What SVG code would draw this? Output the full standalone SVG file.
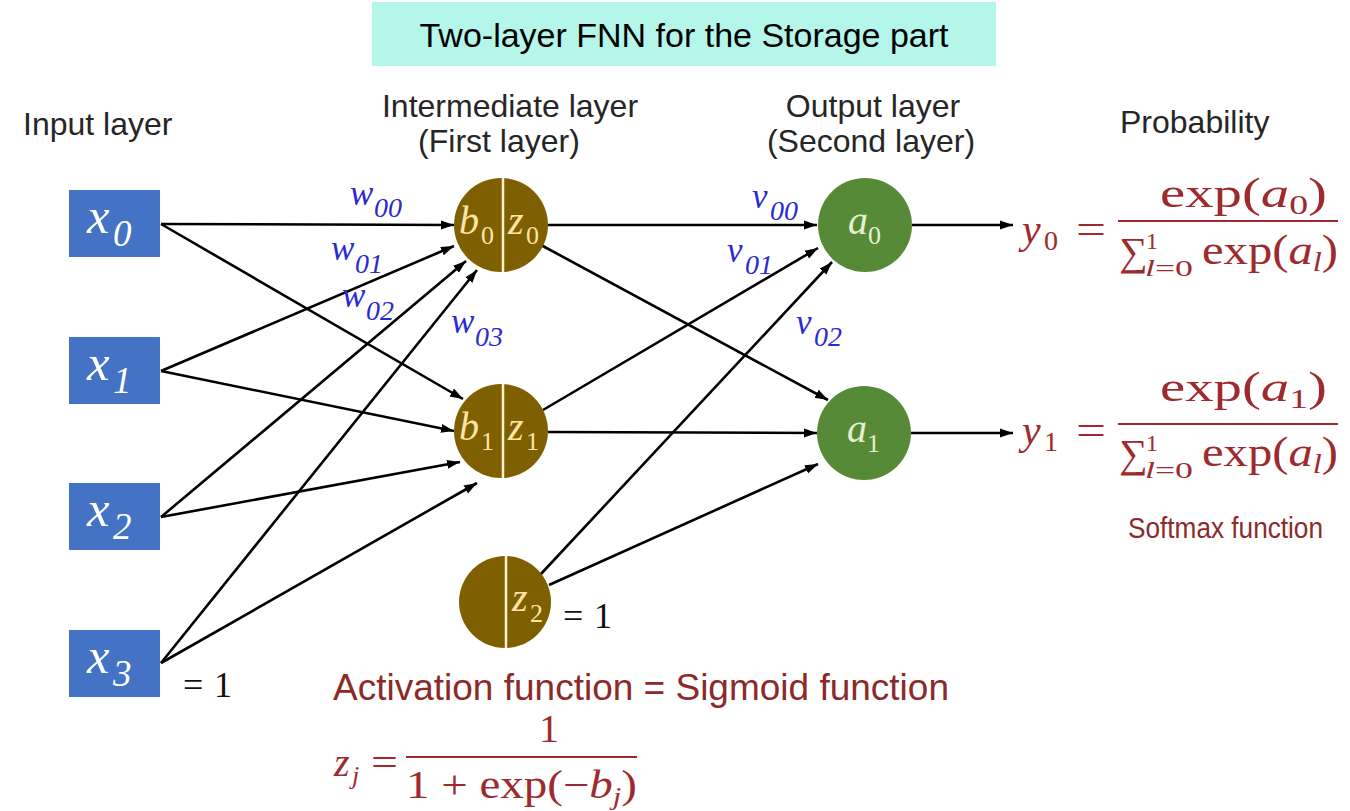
<svg xmlns="http://www.w3.org/2000/svg" width="1350" height="811" viewBox="0 0 1350 811">
<style>
.lbl{font-family:"Liberation Sans",Arial,sans-serif;font-size:32px;fill:#262626}
.red{font-family:"Liberation Sans",Arial,sans-serif;fill:#8c2a2a}
.m{font-family:"Liberation Serif","Times New Roman",serif;fill:#9e2a2e}
.it{font-style:italic}
.inx{font-family:"Liberation Serif","Times New Roman",serif;font-style:italic;fill:#ffffff}
.hid{font-family:"Liberation Serif","Times New Roman",serif;fill:#fbe5a6}
.out{font-family:"Liberation Serif","Times New Roman",serif;fill:#e4f0d2}
.wl{font-family:"Liberation Serif","Times New Roman",serif;font-style:italic;fill:#2a2ad2}
.blk{font-family:"Liberation Serif","Times New Roman",serif;fill:#111}
.box{fill:#4472c4}
.hn{fill:#7f6000}
.on{fill:#578a37}
.div{stroke:#fff2cc;stroke-width:2.5}
.c{stroke:#000;stroke-width:2.6;fill:none;marker-end:url(#ah)}
.bar{stroke:#9e2a2e;stroke-width:2.2}
</style>
<defs>
<marker id="ah" viewBox="0 0 10 10" refX="10" refY="5" markerWidth="5" markerHeight="5" orient="auto" markerUnits="strokeWidth">
<path d="M0,1.5 L10,5 L0,8.5 z" fill="#000"/>
</marker>
</defs>
<rect width="1350" height="811" fill="#ffffff"/>

<g id="title">
<rect x="372" y="2" width="624" height="64" fill="#b4f6e9"/>
<text x="684" y="47" text-anchor="middle" font-family="Liberation Sans, Arial, sans-serif" font-size="34" fill="#000">Two-layer FNN for the Storage part</text>
</g>

<g id="labels">
<text class="lbl" x="23" y="135">Input layer</text>
<text class="lbl" x="510" y="117" text-anchor="middle">Intermediate layer</text>
<text class="lbl" x="499" y="152" text-anchor="middle">(First layer)</text>
<text class="lbl" x="873" y="117" text-anchor="middle">Output layer</text>
<text class="lbl" x="871" y="152" text-anchor="middle">(Second layer)</text>
<text class="lbl" x="1120" y="133">Probability</text>
</g>

<g id="connectors">
<line class="c" x1="161" y1="224" x2="454" y2="225"/>
<line class="c" x1="161" y1="224" x2="463" y2="399"/>
<line class="c" x1="161" y1="371" x2="454" y2="246"/>
<line class="c" x1="161" y1="371" x2="454" y2="431"/>
<line class="c" x1="161" y1="517" x2="466" y2="261"/>
<line class="c" x1="161" y1="517" x2="460" y2="462"/>
<line class="c" x1="161" y1="663" x2="477" y2="270"/>
<line class="c" x1="161" y1="663" x2="477" y2="483"/>
<line class="c" x1="548" y1="225" x2="817" y2="225"/>
<line class="c" x1="541" y1="245" x2="828" y2="400"/>
<line class="c" x1="543" y1="410" x2="818" y2="248"/>
<line class="c" x1="548" y1="432" x2="817" y2="433"/>
<line class="c" x1="540" y1="575" x2="832" y2="262"/>
<line class="c" x1="549" y1="585" x2="818" y2="464"/>
<line class="c" x1="912" y1="225" x2="1013" y2="225"/>
<line class="c" x1="911" y1="433" x2="1013" y2="433"/>
</g>

<g id="x0">
<rect class="box" x="69" y="190" width="91" height="67"/>
<text class="inx" x="87" y="233" font-size="51">x</text><text class="inx" x="113" y="246" font-size="37">0</text>
</g>
<g id="x1">
<rect class="box" x="69" y="337" width="91" height="67"/>
<text class="inx" x="87" y="380" font-size="51">x</text><text class="inx" x="113" y="393" font-size="37">1</text>
</g>
<g id="x2">
<rect class="box" x="69" y="483" width="91" height="67"/>
<text class="inx" x="87" y="526" font-size="51">x</text><text class="inx" x="113" y="539" font-size="37">2</text>
</g>
<g id="x3">
<rect class="box" x="69" y="630" width="91" height="67"/>
<text class="inx" x="87" y="673" font-size="51">x</text><text class="inx" x="113" y="686" font-size="37">3</text>
<text class="blk" x="183" y="697" font-size="36">=</text><text class="blk" x="214" y="697" font-size="36">1</text>
</g>

<g id="h0">
<circle class="hn" cx="501" cy="225" r="47"/>
<line class="div" x1="503" y1="178" x2="503" y2="272"/>
<text class="hid it" x="459" y="234" font-size="40">b</text><text class="hid" x="481" y="244" font-size="26">0</text>
<text class="hid it" x="508" y="234" font-size="40">z</text><text class="hid" x="526" y="244" font-size="26">0</text>
</g>
<g id="h1">
<circle class="hn" cx="501" cy="431" r="47"/>
<line class="div" x1="503" y1="384" x2="503" y2="478"/>
<text class="hid it" x="459" y="440" font-size="40">b</text><text class="hid" x="481" y="450" font-size="26">1</text>
<text class="hid it" x="508" y="440" font-size="40">z</text><text class="hid" x="526" y="450" font-size="26">1</text>
</g>
<g id="h2">
<circle class="hn" cx="505" cy="602" r="46"/>
<line class="div" x1="506" y1="556" x2="506" y2="648"/>
<text class="hid it" x="512" y="611" font-size="40">z</text><text class="hid" x="530" y="622" font-size="26">2</text>
<text class="blk" x="563" y="628" font-size="36">=</text><text class="blk" x="594" y="628" font-size="36">1</text>
</g>

<g id="a0">
<circle class="on" cx="865" cy="225" r="47"/>
<text class="out it" x="848" y="234" font-size="40">a</text><text class="out" x="868" y="244" font-size="26">0</text>
</g>
<g id="a1">
<circle class="on" cx="864" cy="433" r="47"/>
<text class="out it" x="847" y="442" font-size="40">a</text><text class="out" x="867" y="452" font-size="26">1</text>
</g>

<g id="weights">
<text class="wl" x="350" y="205" font-size="35">w</text><text class="wl" x="374" y="217" font-size="28">00</text>
<text class="wl" x="331" y="260" font-size="35">w</text><text class="wl" x="355" y="273" font-size="28">01</text>
<text class="wl" x="342" y="307" font-size="35">w</text><text class="wl" x="366" y="320" font-size="28">02</text>
<text class="wl" x="451" y="333" font-size="35">w</text><text class="wl" x="475" y="346" font-size="28">03</text>
<text class="wl" x="752" y="208" font-size="35">v</text><text class="wl" x="770" y="220" font-size="28">00</text>
<text class="wl" x="727" y="262" font-size="35">v</text><text class="wl" x="745" y="274" font-size="28">01</text>
<text class="wl" x="796" y="334" font-size="35">v</text><text class="wl" x="814" y="346" font-size="28">02</text>
</g>

<g id="y0">
<text class="m it" x="1022" y="243" font-size="42">y</text><text class="m" x="1044" y="250" font-size="28">0</text>
<text class="m" x="1076" y="243" font-size="42" textLength="30" lengthAdjust="spacingAndGlyphs">=</text>
<text class="m" x="1160" y="207" font-size="42" textLength="167" lengthAdjust="spacingAndGlyphs">exp(<tspan font-style="italic">a</tspan><tspan font-size="28" dy="7">0</tspan><tspan dy="-7">)</tspan></text>
<line class="bar" x1="1118" y1="221" x2="1338" y2="221"/>
<text class="m" x="1119" y="265" font-size="40">∑</text>
<text class="m" x="1146" y="249" font-size="24">1</text>
<text class="m" x="1145" y="276" font-size="24" textLength="48" lengthAdjust="spacingAndGlyphs"><tspan font-style="italic">l</tspan>=0</text>
<text class="m" x="1202" y="264" font-size="42" textLength="136" lengthAdjust="spacingAndGlyphs">exp(<tspan font-style="italic">a</tspan><tspan font-style="italic" font-size="28" dy="7">l</tspan><tspan dy="-7">)</tspan></text>
</g>

<g id="y1">
<text class="m it" x="1022" y="444" font-size="42">y</text><text class="m" x="1044" y="451" font-size="28">1</text>
<text class="m" x="1076" y="444" font-size="42" textLength="30" lengthAdjust="spacingAndGlyphs">=</text>
<text class="m" x="1160" y="401" font-size="42" textLength="167" lengthAdjust="spacingAndGlyphs">exp(<tspan font-style="italic">a</tspan><tspan font-size="28" dy="7">1</tspan><tspan dy="-7">)</tspan></text>
<line class="bar" x1="1118" y1="424" x2="1338" y2="424"/>
<text class="m" x="1119" y="467" font-size="40">∑</text>
<text class="m" x="1146" y="451" font-size="24">1</text>
<text class="m" x="1145" y="478" font-size="24" textLength="48" lengthAdjust="spacingAndGlyphs"><tspan font-style="italic">l</tspan>=0</text>
<text class="m" x="1202" y="466" font-size="42" textLength="136" lengthAdjust="spacingAndGlyphs">exp(<tspan font-style="italic">a</tspan><tspan font-style="italic" font-size="28" dy="7">l</tspan><tspan dy="-7">)</tspan></text>
<text class="red" x="1128" y="538" font-size="30" textLength="195" lengthAdjust="spacingAndGlyphs">Softmax function</text>
</g>

<g id="activation">
<text class="red" x="333" y="700" font-size="37">Activation function = Sigmoid function</text>
<text class="m it" x="334" y="776" font-size="40">z</text><text class="m it" x="352" y="784" font-size="26">j</text>
<text class="m" x="371" y="776" font-size="40" textLength="27" lengthAdjust="spacingAndGlyphs">=</text>
<text class="m" x="539" y="742" font-size="40">1</text>
<line class="bar" x1="406" y1="757" x2="637" y2="757"/>
<text class="m" x="406" y="798" font-size="40" textLength="231" lengthAdjust="spacingAndGlyphs">1 + exp(−<tspan font-style="italic">b</tspan><tspan font-style="italic" font-size="26" dy="7">j</tspan><tspan dy="-7">)</tspan></text>
</g>
</svg>
